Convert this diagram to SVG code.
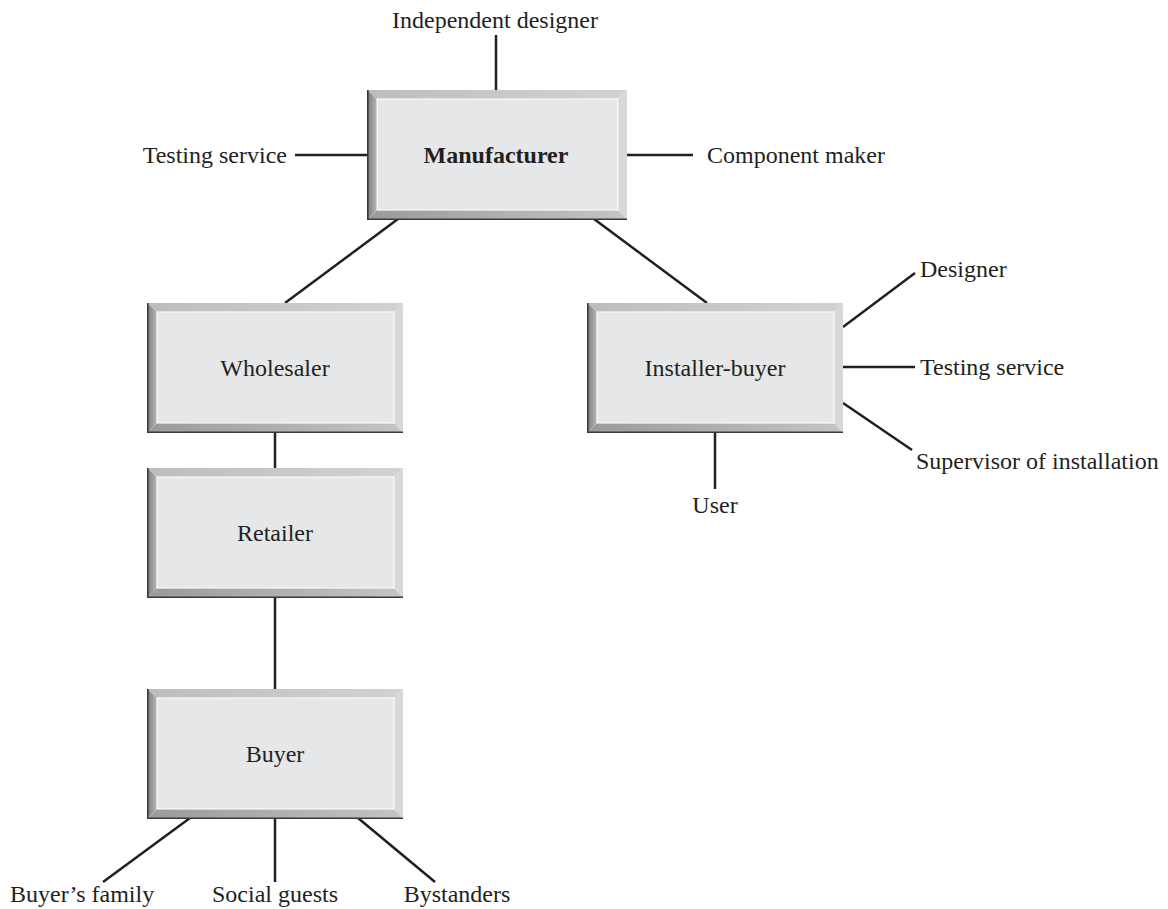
<svg xmlns="http://www.w3.org/2000/svg" xmlns:xlink="http://www.w3.org/1999/xlink" width="1168" height="909" viewBox="0 0 1168 909">
<style>
.t{font-family:"Liberation Serif","DejaVu Serif",serif;font-size:24px;fill:#231f20}
.b{font-weight:bold}
.m{text-anchor:middle}
.c line{stroke:#231f20;stroke-width:2.5}
</style>
<defs>
<linearGradient id="gl" x1="0" y1="0" x2="1" y2="0">
<stop offset="0" stop-color="#7a7a7a"/><stop offset="1" stop-color="#b8b8b8"/>
</linearGradient>
<linearGradient id="gb" x1="0" y1="0" x2="1" y2="0">
<stop offset="0" stop-color="#9a9a9a"/><stop offset="1" stop-color="#c4c4c4"/>
</linearGradient>
<linearGradient id="gt" x1="0" y1="0" x2="1" y2="0">
<stop offset="0" stop-color="#bdbdbd"/><stop offset="1" stop-color="#d2d2d2"/>
</linearGradient>
<g id="frame">
<polygon points="0,0 256,0 247,9 10,9" fill="url(#gt)"/>
<polygon points="256,0 256,130 247,120 247,9" fill="#d8d8d8"/>
<polygon points="0,130 256,130 247,120 10,120" fill="url(#gb)"/>
<polygon points="0,0 10,9 10,120 0,130" fill="url(#gl)"/>
<rect x="10" y="9" width="237" height="111" fill="#e6e7e8" stroke="#fbfbfb" stroke-width="1.2"/>
<path d="M0.8,0 V129.2 H256" fill="none" stroke="#3a3a3a" stroke-width="1.6"/>
</g>
</defs>
<rect width="1168" height="909" fill="#fff"/>
<g class="c" id="connectors">
<line x1="496" y1="35" x2="496" y2="90"/>
<line x1="295" y1="155" x2="367" y2="155"/>
<line x1="627" y1="155" x2="693" y2="155"/>
<line x1="398" y1="219" x2="285" y2="303"/>
<line x1="594" y1="219" x2="707" y2="303"/>
<line x1="843" y1="327" x2="915" y2="273"/>
<line x1="843" y1="367" x2="915" y2="367"/>
<line x1="843" y1="403" x2="912" y2="450"/>
<line x1="715" y1="433" x2="715" y2="489"/>
<line x1="275" y1="433" x2="275" y2="468"/>
<line x1="275" y1="598" x2="275" y2="689"/>
<line x1="190" y1="818" x2="103" y2="882"/>
<line x1="275" y1="818" x2="275" y2="882"/>
<line x1="358" y1="818" x2="435" y2="882"/>
</g>
<g id="manufacturer">
<use xlink:href="#frame" transform="translate(367,90) scale(1.0156,1)"/>
<text class="t b m" x="496" y="163">Manufacturer</text>
</g>
<g id="wholesaler">
<use xlink:href="#frame" transform="translate(147,303)"/>
<text class="t m" x="275" y="376">Wholesaler</text>
</g>
<g id="installer-buyer">
<use xlink:href="#frame" transform="translate(587,303)"/>
<text class="t m" x="715" y="376">Installer-buyer</text>
</g>
<g id="retailer">
<use xlink:href="#frame" transform="translate(147,468)"/>
<text class="t m" x="275" y="541">Retailer</text>
</g>
<g id="buyer">
<use xlink:href="#frame" transform="translate(147,689)"/>
<text class="t m" x="275" y="762">Buyer</text>
</g>
<g id="labels">
<text class="t m" x="495" y="28">Independent designer</text>
<text class="t" x="287" y="163" text-anchor="end">Testing service</text>
<text class="t" x="707" y="163">Component maker</text>
<text class="t" x="920" y="277">Designer</text>
<text class="t" x="920" y="375">Testing service</text>
<text class="t" x="916" y="469">Supervisor of installation</text>
<text class="t m" x="715" y="513">User</text>
<text class="t" x="10" y="902">Buyer’s family</text>
<text class="t m" x="275" y="902">Social guests</text>
<text class="t m" x="457" y="902">Bystanders</text>
</g>
</svg>
